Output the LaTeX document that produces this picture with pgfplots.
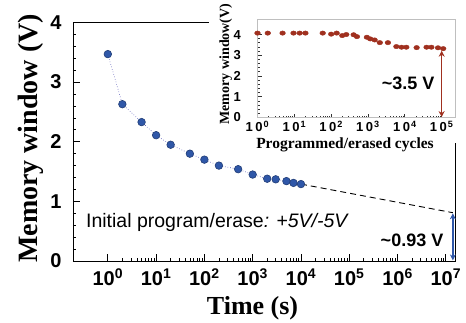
\documentclass[border=0pt]{standalone}
\usepackage{pgfplots}
\pgfplotsset{compat=1.18}
\usepackage{fontspec}
\setmainfont{Liberation Sans}
\newfontfamily\serifb{Liberation Serif}
\usetikzlibrary{arrows.meta}
\definecolor{mblue}{HTML}{2F57A8}
\definecolor{mred}{HTML}{A0301F}
\pgfplotstableread{
x y
1 3.47
2 2.63
5 2.33
10 2.11
20 1.95
50 1.80
100 1.70
200 1.60
500 1.54
1000 1.45
2000 1.38
3000 1.37
5000 1.34
7000 1.31
10000 1.29
}\retention
\pgfplotstableread{
x y
1 4.07
1.9 4.07
4.8 4.07
9.5 4.07
14 4.07
20 4.07
59 4.07
100 4.02
141 4.07
200 3.95
257 4.00
407 3.99
500 3.90
933 3.87
1148 3.79
1514 3.74
2089 3.61
3467 3.61
5888 3.42
8128 3.39
10965 3.39
20893 3.37
38905 3.39
52480 3.39
79433 3.36
110000 3.32
}\endurance
\begin{document}
\begin{tikzpicture}
\useasboundingbox (0,0) rectangle (466pt,322pt);
\begin{axis}[
  at={(73pt,61pt)}, anchor=south west,
  scale only axis, width=382pt, height=238.5pt,
  xmode=log, xmin=0.19, xmax=1.55e7, ymin=0, ymax=4,
  xtick={1,10,100,1000,10000,100000,1000000,10000000},
  xticklabels={10\textsuperscript{0},10\textsuperscript{1},10\textsuperscript{2},10\textsuperscript{3},10\textsuperscript{4},10\textsuperscript{5},10\textsuperscript{6},10\textsuperscript{7}},
  ytick={0,1,2,3,4}, minor y tick num=4,
  xtick pos=bottom, ytick pos=left,
  tick align=inside,
  major tick length=7pt, minor tick length=3.5pt,
  axis line style={black, line width=0.7pt},
  tick style={black, line width=0.7pt},
  /pgf/number format/assume math mode=true,
  ticklabel style={font=\bfseries\fontsize{20}{20}\selectfont},
  yticklabel style={xshift=-8pt},
  xticklabel style={yshift=-4pt},
  xlabel={Time (s)}, ylabel={Memory window (V)},
  xlabel style={font=\serifb\bfseries\fontsize{26}{26}\selectfont, at={(axis description cs:0.47,-0.2)}, anchor=center},
  ylabel style={font=\serifb\bfseries\fontsize{28}{28}\selectfont, at={(axis description cs:-0.11,0.514)}, anchor=center},
  clip=false,
]
\addplot[black, line width=0.9pt, dash pattern=on 6pt off 4pt] coordinates {(10000,1.29) (1.4e7,0.81)};
\addplot[blue!40!gray, dotted, line width=0.6pt, mark=*, mark size=3.8pt,
  mark options={solid, fill=mblue, draw=mblue!70!black}] table[x=x,y=y] {\retention};
\addplot[mblue, line width=1.5pt, {Stealth[length=6pt,width=6pt]}-{Stealth[length=6pt,width=6pt]}] coordinates {(1.4e7,0.01) (1.4e7,0.8)};
\node[anchor=west, font=\fontsize{19.5}{20}\selectfont] at (axis cs:0.3,0.64) {Initial program/erase\textit{: +5V/-5V}};
\node[anchor=east, font=\bfseries\fontsize{18}{18}\selectfont] at (axis cs:1.05e7,0.35) {\textasciitilde0.93 V};
\end{axis}
\fill[white] (209pt,179pt) rectangle (462pt,323pt);
\begin{axis}[
  at={(257.5pt,204.5pt)}, anchor=south west,
  scale only axis, width=197.5pt, height=98.5pt,
  xmode=log, xmin=1, xmax=2.3e5, ymin=0, ymax=4.75,
  axis background/.style={fill=white},
  xtick={1,10,100,1000,10000,100000},
  xticklabels={1\hspace{2.5pt}0\textsuperscript{\hspace{1pt}0},1\hspace{2.5pt}0\textsuperscript{\hspace{1pt}1},1\hspace{2.5pt}0\textsuperscript{\hspace{1pt}2},1\hspace{2.5pt}0\textsuperscript{\hspace{1pt}3},1\hspace{2.5pt}0\textsuperscript{\hspace{1pt}4},1\hspace{2.5pt}0\textsuperscript{\hspace{1pt}5}},
  ytick={0,1,2,3,4}, minor y tick num=4,
  xtick pos=bottom, ytick pos=left,
  tick align=inside,
  major tick length=4pt, minor tick length=2pt,
  axis line style={gray!50, line width=0.8pt},
  tick style={black!80, line width=0.8pt},
  /pgf/number format/assume math mode=true,
  ticklabel style={font=\bfseries\fontsize{13}{13}\selectfont},
  yticklabel style={xshift=-13pt},
  xlabel={Programmed/erased cycles}, ylabel={Memory window(V)},
  xlabel style={font=\serifb\bfseries\fontsize{15.5}{15.5}\selectfont, at={(axis description cs:0.443,-0.28)}, anchor=center},
  ylabel style={font=\serifb\bfseries\fontsize{14}{14}\selectfont, at={(axis description cs:-0.16,0.543)}, anchor=center},
  clip=false,
]
\addplot[only marks, mark=*, mark size=2.2pt, color=mred, mark options={xscale=1.3}] table[x=x,y=y] {\endurance};
\addplot[mred, line width=1.5pt, {Stealth[length=6pt,width=6pt]}-{Stealth[length=6pt,width=6pt]}] coordinates {(1e5,3.22) (1e5,0.02)};
\node[anchor=east, font=\bfseries\fontsize{18}{18}\selectfont] at (axis cs:7.9e4,1.67) {\textasciitilde3.5 V};
\end{axis}
\end{tikzpicture}
\end{document}
